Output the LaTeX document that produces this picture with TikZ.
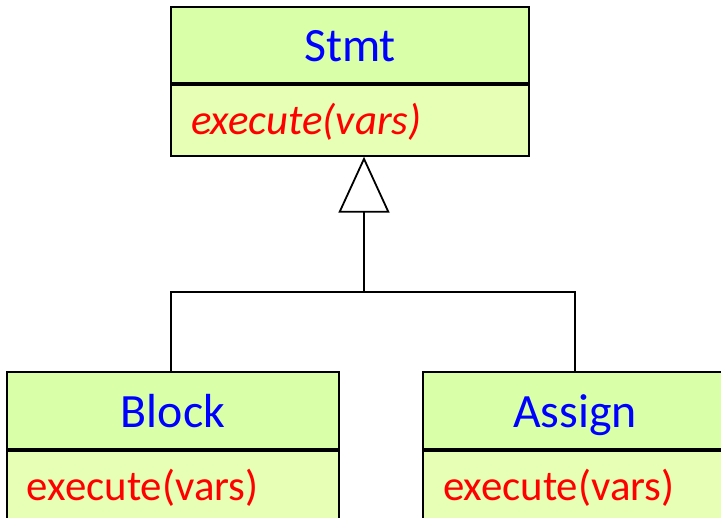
\documentclass[tikz,border=0pt]{standalone}
\usepackage{fontspec}
\setmainfont{Carlito}
\usetikzlibrary{arrows.meta}
\definecolor{titlefill}{RGB}{217,255,168}
\definecolor{methfill}{RGB}{230,255,180}
\definecolor{tblue}{RGB}{0,0,255}
\definecolor{mred}{RGB}{255,0,0}
\tikzset{
  classtitle/.style={draw=black, line width=1.8bp, fill=titlefill, text=tblue,
    font=\fontsize{48}{52}\selectfont, inner sep=0pt, text height=34bp, text depth=0pt},
  classmeth/.style={draw=black, line width=1.8bp, fill=methfill, text=mred,
    font=\fontsize{43}{47}\selectfont, inner xsep=20bp, inner ysep=0pt,
    text height=29bp, text depth=0pt, minimum height=71bp,
    align=left, anchor=north},
  conn/.style={line width=1.8bp, draw=black},
}
\begin{document}
\begin{tikzpicture}[x=1bp,y=-1bp]
\useasboundingbox (0,0) rectangle (721,518);
\clip (0,0) rectangle (721,518);
% Stmt
\node[classtitle, minimum width=358bp, minimum height=76bp] (stmtT) at (350,45) {Stmt};
\node[classmeth, text width=318bp] (stmtM) at (stmtT.south) {\itshape execute(vars)};
% Block
\node[classtitle, minimum width=332bp, minimum height=77bp] (blockT) at (173,410.5) {Block};
\node[classmeth, text width=292bp] (blockM) at (blockT.south) {execute(vars)};
% Assign
\node[classtitle, minimum width=304bp, minimum height=77bp] (assignT) at (575,410.5) {Assign};
\node[classmeth, text width=264bp] (assignM) at (assignT.south) {execute(vars)};
% connectors
\coordinate (bar) at (364,292);
\draw[conn, -{Triangle[open, length=56bp, width=51bp, line width=1.8bp]}] (bar) -- (stmtM.south -| bar);
\draw[conn] ([xshift=-2bp]blockT.north) -- ([xshift=-2bp]blockT.north |- bar) -- (assignT.north |- bar) -- (assignT.north);
\end{tikzpicture}
\end{document}
